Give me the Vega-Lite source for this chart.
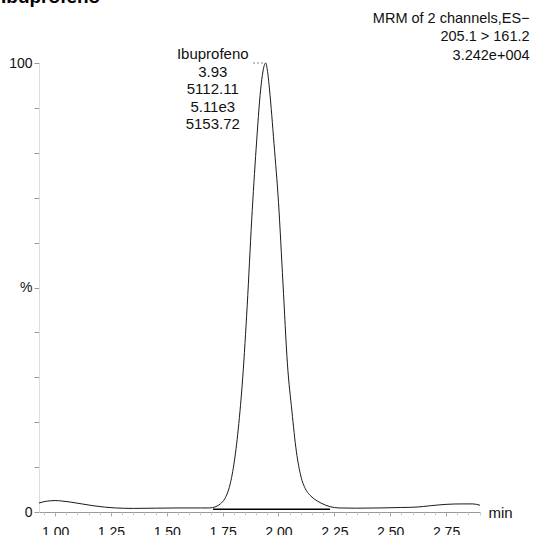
{
  "$schema": "https://vega.github.io/schema/vega-lite/v6.json",
  "width": 441,
  "height": 449,
  "autosize": {"type": "none"},
  "padding": {"left": 39, "top": 63, "right": 54, "bottom": 23},
  "background": "white",
  "config": {"view": {"stroke": null}, "font": "Liberation Sans"},
  "resolve": {"axis": {"x": "independent"}},
  "datasets": {
    "trace": [
      {"t": 0.928, "pct": 2.0}, {"t": 0.95, "pct": 2.3}, {"t": 0.98, "pct": 2.5},
      {"t": 1.0, "pct": 2.55}, {"t": 1.03, "pct": 2.45}, {"t": 1.07, "pct": 2.2},
      {"t": 1.12, "pct": 1.8}, {"t": 1.17, "pct": 1.4}, {"t": 1.22, "pct": 1.1},
      {"t": 1.27, "pct": 0.9}, {"t": 1.35, "pct": 0.8}, {"t": 1.45, "pct": 0.85},
      {"t": 1.55, "pct": 0.9}, {"t": 1.65, "pct": 0.9}, {"t": 1.69, "pct": 0.9},
      {"t": 1.72, "pct": 1.2}, {"t": 1.74, "pct": 1.8}, {"t": 1.76, "pct": 3.0},
      {"t": 1.78, "pct": 5.5}, {"t": 1.8, "pct": 10.5}, {"t": 1.82, "pct": 18.5},
      {"t": 1.84, "pct": 30}, {"t": 1.86, "pct": 46}, {"t": 1.88, "pct": 65},
      {"t": 1.9, "pct": 81}, {"t": 1.92, "pct": 94}, {"t": 1.93, "pct": 98},
      {"t": 1.943, "pct": 100}, {"t": 1.95, "pct": 98.5}, {"t": 1.96, "pct": 94},
      {"t": 1.98, "pct": 82}, {"t": 2.0, "pct": 69}, {"t": 2.02, "pct": 51},
      {"t": 2.04, "pct": 33}, {"t": 2.06, "pct": 22.5}, {"t": 2.08, "pct": 13.5},
      {"t": 2.1, "pct": 8.0}, {"t": 2.12, "pct": 5.2}, {"t": 2.14, "pct": 3.8},
      {"t": 2.16, "pct": 2.9}, {"t": 2.19, "pct": 2.0}, {"t": 2.23, "pct": 1.2},
      {"t": 2.27, "pct": 0.9}, {"t": 2.35, "pct": 0.85}, {"t": 2.45, "pct": 0.9},
      {"t": 2.55, "pct": 1.0}, {"t": 2.62, "pct": 1.1}, {"t": 2.68, "pct": 1.4},
      {"t": 2.75, "pct": 1.7}, {"t": 2.82, "pct": 1.8}, {"t": 2.87, "pct": 1.8},
      {"t": 2.902, "pct": 1.5}
    ],
    "integration": [{"start": 1.707, "end": 2.231, "level": 0.6}],
    "apexMarker": [{"from": 1.886, "to": 1.935, "level": 100}],
    "peaks": [
      {"t": 1.943, "pct": 100, "label": "Ibuprofeno\n3.93\n5112.11\n5.11e3\n5153.72"}
    ],
    "heading": [
      {"t": 0.758, "pct": 113.4, "label": "Ibuprofeno"}
    ],
    "header": [
      {"t": 3.124, "pct": 111.4, "label": "MRM of 2 channels,ES−\n205.1 > 161.2\n3.242e+004"}
    ]
  },
  "layer": [
    {
      "data": {"name": "trace"},
      "mark": {"type": "line", "color": "#1a1a1a", "strokeWidth": 1, "interpolate": "monotone"},
      "encoding": {
        "x": {
          "field": "t",
          "type": "quantitative",
          "scale": {"domain": [0.928, 2.902], "nice": false, "zero": false},
          "axis": {
            "orient": "bottom",
            "values": [1.0, 1.25, 1.5, 1.75, 2.0, 2.25, 2.5, 2.75],
            "format": ".2f",
            "title": "min",
            "titleX": 449,
            "titleY": 0,
            "titleAlign": "left",
            "titleBaseline": "middle",
            "titleFontSize": 15,
            "titleFontWeight": "normal",
            "titleColor": "#111",
            "labelFontSize": 14,
            "labelColor": "#111",
            "labelPadding": 9,
            "labelBaseline": "top",
            "labelOverlap": false,
            "labelFlush": false,
            "tickSize": 4,
            "tickColor": "#aaa",
            "domainColor": "#999",
            "grid": false
          }
        },
        "y": {
          "field": "pct",
          "type": "quantitative",
          "scale": {"domain": [0, 100], "nice": false},
          "axis": {
            "values": [0, 10, 20, 30, 40, 50, 60, 70, 80, 90, 100],
            "labelExpr": "datum.value == 100 ? '100' : datum.value == 50 ? '%' : datum.value == 0 ? '0' : ''",
            "labelOverlap": false,
            "title": null,
            "tickSize": 5,
            "tickColor": "#999",
            "labelPadding": 2,
            "labelFontSize": 14,
            "labelColor": "#111",
            "domainColor": "#ddd",
            "grid": false
          }
        }
      }
    },
    {
      "data": {"name": "integration"},
      "mark": {"type": "rule", "color": "#000", "strokeWidth": 1.6},
      "encoding": {
        "x": {
          "field": "start",
          "type": "quantitative",
          "axis": {
            "orient": "bottom",
            "values": [0.95, 1.05, 1.1, 1.15, 1.2, 1.3, 1.35, 1.4, 1.45, 1.55, 1.6, 1.65, 1.7, 1.8, 1.85, 1.9, 1.95, 2.05, 2.1, 2.15, 2.2, 2.3, 2.35, 2.4, 2.45, 2.55, 2.6, 2.65, 2.7, 2.8, 2.85, 2.9],
            "labels": false,
            "domain": false,
            "title": null,
            "tickSize": 3,
            "tickColor": "#ccc",
            "grid": false
          }
        },
        "x2": {"field": "end"},
        "y": {"field": "level", "type": "quantitative"}
      }
    },
    {
      "data": {"name": "apexMarker"},
      "mark": {"type": "rule", "color": "#888", "strokeWidth": 1, "strokeDash": [2, 2]},
      "encoding": {
        "x": {"field": "from", "type": "quantitative", "axis": null},
        "x2": {"field": "to"},
        "y": {"field": "level", "type": "quantitative"}
      }
    },
    {
      "data": {"name": "peaks"},
      "mark": {
        "type": "text",
        "align": "center",
        "baseline": "top",
        "dx": -53,
        "dy": -16,
        "lineBreak": "\n",
        "lineHeight": 17.5,
        "fontSize": 15,
        "color": "#111"
      },
      "encoding": {
        "x": {"field": "t", "type": "quantitative", "axis": null},
        "y": {"field": "pct", "type": "quantitative"},
        "text": {"field": "label"}
      }
    },
    {
      "data": {"name": "heading"},
      "mark": {
        "type": "text",
        "align": "left",
        "baseline": "alphabetic",
        "fontSize": 19,
        "fontWeight": "bold",
        "color": "#000"
      },
      "encoding": {
        "x": {"field": "t", "type": "quantitative", "axis": null},
        "y": {"field": "pct", "type": "quantitative"},
        "text": {"field": "label"}
      }
    },
    {
      "data": {"name": "header"},
      "mark": {
        "type": "text",
        "align": "right",
        "baseline": "top",
        "lineBreak": "\n",
        "lineHeight": 18.5,
        "fontSize": 14.5,
        "color": "#111"
      },
      "encoding": {
        "x": {"field": "t", "type": "quantitative", "axis": null},
        "y": {"field": "pct", "type": "quantitative"},
        "text": {"field": "label"}
      }
    }
  ]
}
